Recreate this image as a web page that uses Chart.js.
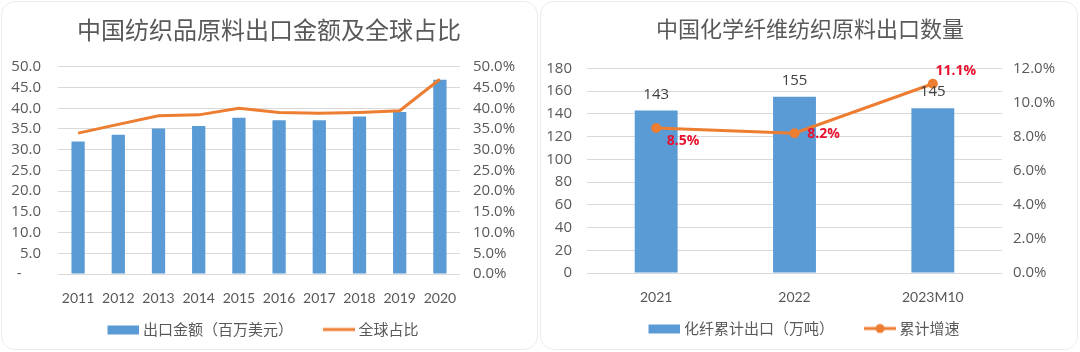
<!DOCTYPE html>
<html>
<head>
<meta charset="utf-8">
<script src="https://cdn.jsdelivr.net/npm/chart.js@4.4.1/dist/chart.umd.min.js"></script>
<style>
  html, body { margin: 0; padding: 0; background: #fff; }
  body { width: 1080px; height: 352px; position: relative; overflow: hidden; }
  .panel { position: absolute; top: 1px; height: 349px; border: 1px solid #ebebeb; border-radius: 14px; box-sizing: border-box; }
  #p1 { left: 1px; width: 537px; }
  #p2 { left: 540px; width: 538px; }
  canvas { position: absolute; top: 0; }
</style>
</head>
<body>
<div class="panel" id="p1"></div>
<div class="panel" id="p2"></div>
<canvas id="chLeft" width="538" height="352" style="left:0"></canvas>
<canvas id="chRight" width="540" height="352" style="left:540px"></canvas>
<script>
// left chart data
var years = ['2011', '2012', '2013', '2014', '2015', '2016', '2017', '2018', '2019', '2020'];
var exportValue = [32.0, 33.6, 35.1, 35.7, 37.7, 37.1, 37.1, 38.0, 39.1, 46.9];
var globalShare = [34.0, 36.1, 38.2, 38.4, 40.0, 39.0, 38.8, 39.0, 39.4, 47.0];

// right chart data
var periods = ['2021', '2022', '2023M10'];
var fiberExport = [143, 155, 145];
var fiberGrowth = [8.5, 8.2, 11.1];

var blue = '#5B9BD5';
var orange = '#ED7D31';
var grey = '#595959';
var gridColor = '#d9d9d9';
var font = 'Lato, "Noto Sans CJK SC", sans-serif';
var yFont = '"Open Sans", "Noto Sans CJK SC", sans-serif';
var cjk = '"Noto Sans CJK SC", sans-serif';

// legend markers: 44px legend box, the 32px marker sits at its right end
// so the empty left part spaces the legend items apart
function marker(kind) {
  var c = document.createElement('canvas');
  c.width = 52; c.height = 12;
  var g = c.getContext('2d');
  if (kind === 'bar') {
    g.fillStyle = blue;
    g.fillRect(20, 2, 32, 9);
  } else {
    g.strokeStyle = orange;
    g.lineWidth = 3;
    g.beginPath(); g.moveTo(20, 6); g.lineTo(52, 6); g.stroke();
    if (kind === 'dot') {
      g.fillStyle = orange;
      g.beginPath(); g.arc(36, 6, 4.5, 0, Math.PI * 2); g.fill();
    }
  }
  return c;
}

// the empty part of the first marker pushes the legend right, pull it back
var legendShift = {
  id: 'legendShift',
  afterLayout: function (chart) {
    if (chart.legend) {
      chart.legend.left -= 14;
      chart.legend.right -= 14;
    }
  }
};

// value labels drawn on top of the datasets
var valueLabels = {
  id: 'valueLabels',
  afterDatasetsDraw: function (chart, args, opts) {
    if (!opts.items) return;
    var ctx = chart.ctx;
    opts.items.forEach(function (it) {
      var meta = chart.getDatasetMeta(it.dataset);
      var data = chart.data.datasets[it.dataset].data;
      ctx.save();
      ctx.font = it.font;
      ctx.fillStyle = it.color;
      ctx.textAlign = 'center';
      ctx.textBaseline = 'middle';
      meta.data.forEach(function (el, i) {
        var off = it.offsets[i];
        ctx.fillText(it.format(data[i]), el.x + off[0], el.y + off[1]);
      });
      ctx.restore();
    });
  }
};

function legendLabels(kinds) {
  return {
    usePointStyle: true, pointStyleWidth: 44, boxHeight: 12, padding: 14,
    color: grey, font: { family: cjk, size: 15 },
    generateLabels: function (chart) {
      return chart.data.datasets.map(function (ds, i) {
        return { text: ds.label, datasetIndex: i, pointStyle: marker(kinds[i]),
          fillStyle: 'transparent', strokeStyle: 'transparent', lineWidth: 0, fontColor: grey };
      });
    }
  };
}

function yTicks(cb, step, pad) {
  return { color: grey, font: { family: yFont, size: 15 }, padding: pad, stepSize: step,
    autoSkip: false, callback: cb };
}

new Chart(document.getElementById('chLeft'), {
  type: 'bar',
  data: {
    labels: years,
    datasets: [
      {
        type: 'line', label: '全球占比', data: globalShare, yAxisID: 'y1',
        borderColor: orange, backgroundColor: orange, borderWidth: 3,
        pointRadius: 0, tension: 0, order: 0
      },
      {
        label: '出口金额（百万美元）', data: exportValue, yAxisID: 'y',
        backgroundColor: blue, barPercentage: 0.33, categoryPercentage: 1, order: 1
      }
    ]
  },
  plugins: [legendShift],
  options: {
    responsive: false,
    animation: false,
    layout: { padding: { left: 0, right: 0, top: 0, bottom: 5 } },
    plugins: {
      title: {
        display: true, text: '中国纺织品原料出口金额及全球占比', color: grey,
        font: { family: cjk, size: 24, weight: 'normal' }, padding: { top: 15, bottom: 23 }
      },
      legend: { position: 'bottom', reverse: true, labels: legendLabels(['line', 'bar']) },
      tooltip: { enabled: false }
    },
    scales: {
      x: {
        grid: { display: false }, border: { display: false },
        ticks: { color: grey, font: { family: font, size: 14 }, padding: 8 },
        afterFit: function (s) { s.height = 34; }
      },
      y: {
        position: 'left', min: 0, max: 50,
        ticks: yTicks(function (v) { return v === 0 ? '-     ' : v.toFixed(1); }, 5, 17),
        grid: { color: gridColor, drawTicks: false }, border: { display: false },
        afterFit: function (s) { s.width = 58; }
      },
      y1: {
        position: 'right', min: 0, max: 50,
        ticks: yTicks(function (v) { return v.toFixed(1) + '%'; }, 5, 5),
        grid: { display: false }, border: { display: false },
        afterFit: function (s) { s.width = 78; }
      }
    }
  }
});

new Chart(document.getElementById('chRight'), {
  type: 'bar',
  data: {
    labels: periods,
    datasets: [
      {
        type: 'line', label: '累计增速', data: fiberGrowth, yAxisID: 'y1',
        borderColor: orange, backgroundColor: orange, borderWidth: 3,
        pointRadius: 5, pointBackgroundColor: orange, pointBorderWidth: 0, tension: 0, order: 0
      },
      {
        label: '化纤累计出口（万吨）', data: fiberExport, yAxisID: 'y',
        backgroundColor: blue, barPercentage: 0.31, categoryPercentage: 1, order: 1
      }
    ]
  },
  plugins: [valueLabels, legendShift],
  options: {
    responsive: false,
    animation: false,
    layout: { padding: { left: 0, right: 0, top: 0, bottom: 6 } },
    plugins: {
      title: {
        display: true, text: '中国化学纤维纺织原料出口数量', color: grey,
        font: { family: cjk, size: 22, weight: 'normal' }, padding: { top: 15, bottom: 27 }
      },
      legend: { position: 'bottom', reverse: true, labels: legendLabels(['dot', 'bar']) },
      tooltip: { enabled: false },
      valueLabels: {
        items: [
          { dataset: 1, font: '15px ' + yFont, color: '#404040', offsets: [[0, -16], [0, -16], [0, -16]],
            format: function (v) { return String(v); } },
          { dataset: 0, font: 'bold 14px ' + yFont, color: '#E8112D', offsets: [[27, 13], [29, 1], [23, -13]],
            format: function (v) { return v.toFixed(1) + '%'; } }
        ]
      }
    },
    scales: {
      x: {
        grid: { display: false }, border: { display: false },
        ticks: { color: grey, font: { family: font, size: 14 }, padding: 8 },
        afterFit: function (s) { s.height = 34; }
      },
      y: {
        position: 'left', min: 0, max: 180,
        ticks: yTicks(function (v) { return String(v); }, 20, 15),
        grid: { color: gridColor, drawTicks: false }, border: { display: false },
        afterFit: function (s) { s.width = 47; }
      },
      y1: {
        position: 'right', min: 0, max: 12,
        ticks: yTicks(function (v) { return v.toFixed(1) + '%'; }, 2, 3),
        grid: { display: false }, border: { display: false },
        afterFit: function (s) { s.width = 78; }
      }
    }
  }
});
</script>
</body>
</html>
